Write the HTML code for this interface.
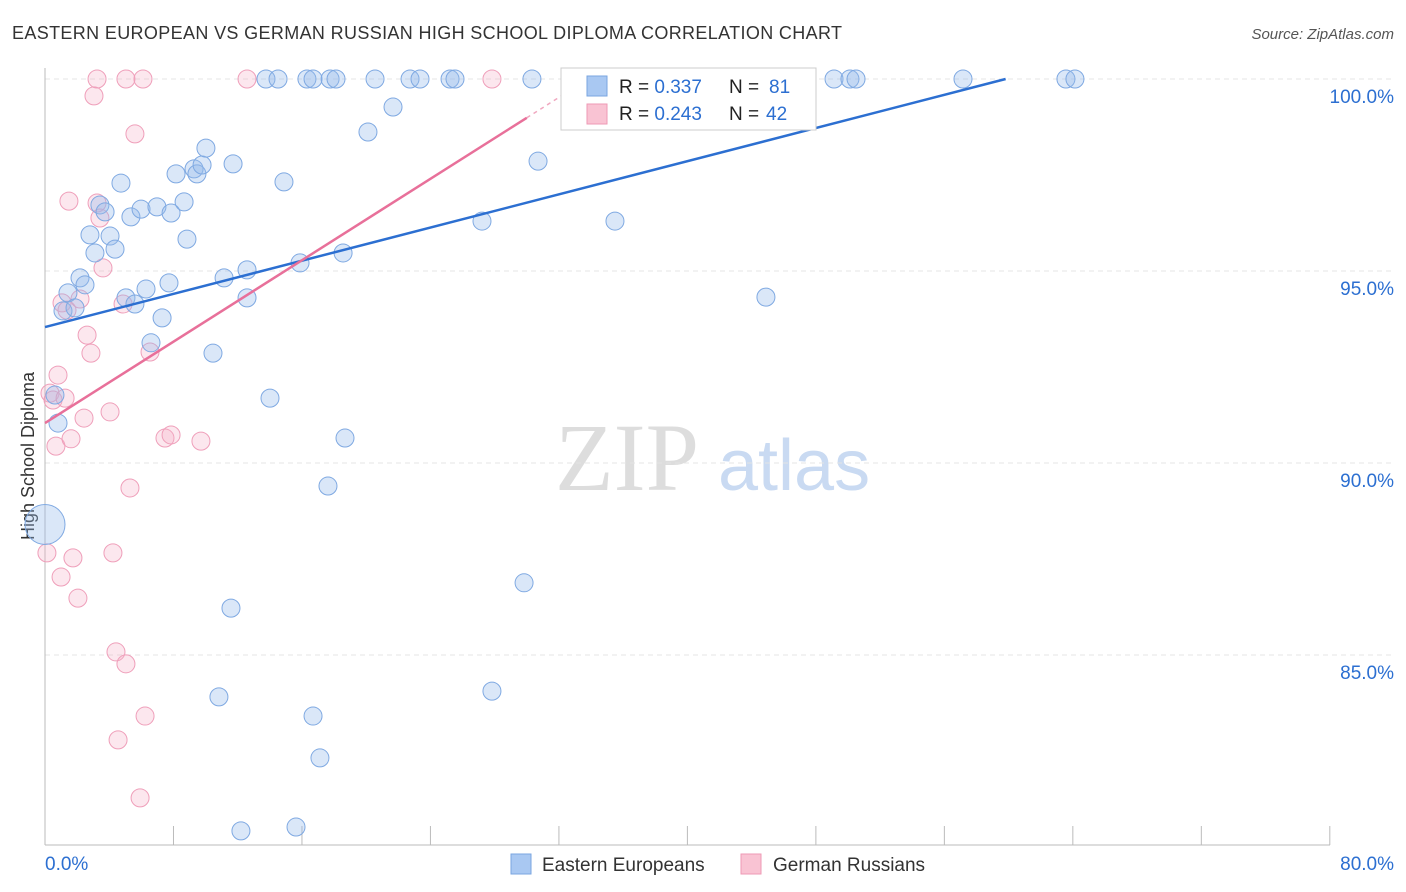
<!DOCTYPE html>
<html><head><meta charset="utf-8"><style>
body{margin:0;background:#fff;font-family:"Liberation Sans",sans-serif;}
svg{display:block}
</style></head><body>
<svg id="chart" width="1406" height="892">
<text x="12" y="39" font-size="18" fill="#333" textLength="830" lengthAdjust="spacing">EASTERN EUROPEAN VS GERMAN RUSSIAN HIGH SCHOOL DIPLOMA CORRELATION CHART</text>
<text x="1394" y="39" font-size="15" fill="#555" text-anchor="end" font-style="italic">Source: ZipAtlas.com</text>
<text transform="translate(34,456) rotate(-90)" font-size="18" fill="#333" text-anchor="middle">High School Diploma</text>
<text x="555" y="490" font-size="96" fill="#ddd" font-family="Liberation Serif,serif">ZIP</text>
<text x="718" y="490" font-size="72" fill="#c9daf2">atlas</text>
<g id="grid"></g><g id="pts"></g><g id="lines"></g>
<g>
<rect x="561" y="68" width="255" height="62" fill="#fff" stroke="#ccc"/>
<rect x="587" y="76" width="20" height="20" fill="#a9c8f2" stroke="#7aa6e0"/>
<rect x="587" y="104" width="20" height="20" fill="#f9c3d3" stroke="#ee9ab5"/>
<text x="619" y="93" font-size="19" fill="#222">R = <tspan fill="#2c6fd1">0.337</tspan></text>
<text x="729" y="93" font-size="19" fill="#222">N = </text>
<text x="769" y="93" font-size="19" fill="#2c6fd1">81</text>
<text x="619" y="120" font-size="19" fill="#222">R = <tspan fill="#2c6fd1">0.243</tspan></text>
<text x="729" y="120" font-size="19" fill="#222">N = </text>
<text x="766" y="120" font-size="19" fill="#2c6fd1">42</text>
</g>
<g>
<rect x="511" y="854" width="20" height="20" fill="#a9c8f2" stroke="#7aa6e0"/>
<text x="542" y="871" font-size="19" fill="#333">Eastern Europeans</text>
<rect x="741" y="854" width="20" height="20" fill="#f9c3d3" stroke="#ee9ab5"/>
<text x="773" y="871" font-size="19" fill="#333">German Russians</text>
</g>
</svg>
<script>
const yTicks=[100,95,90,85];
const xTickLabels=["0.0%","80.0%"];
const blueX=[0,0.62,0.81,1.12,1.43,1.87,2.18,2.49,2.80,3.11,3.42,3.74,4.05,4.36,4.73,5.04,5.35,5.60,5.98,6.29,6.60,6.97,7.29,7.72,7.85,8.16,8.66,8.84,9.28,9.46,9.78,10.02,10.46,11.15,11.58,11.71,10.83,12.20,12.58,12.58,13.76,14.01,14.51,14.88,15.63,15.88,16.31,16.69,16.69,17.12,17.62,17.75,18.12,18.56,18.68,20.11,20.55,21.67,22.73,23.35,25.22,25.53,27.21,27.83,29.83,30.32,30.70,33.94,35.49,35.80,39.29,44.89,47.20,49.13,50.12,50.50,57.16,63.57,64.13];
const blueY=[88.4,91.77,91.04,93.96,94.43,94.04,94.82,94.64,95.94,95.47,96.72,96.54,95.91,95.57,97.29,94.30,96.41,94.14,96.61,94.53,93.13,96.67,93.78,94.69,96.51,97.53,96.80,95.83,97.66,97.53,97.76,98.20,92.86,94.82,86.22,97.79,83.91,80.42,95.03,94.30,100,91.69,100,97.32,80.52,95.21,100,100,83.41,82.32,89.40,100,100,95.47,90.65,98.62,100,99.27,100,100,100,100,96.30,84.06,86.88,100,97.86,100,96.30,100,100,94.32,100,100,100,100,100,100,100];
const pinkX=[0.12,0.31,0.50,0.68,0.81,1.0,1.06,1.25,1.37,1.49,1.62,1.74,2.05,2.18,2.43,2.62,2.86,3.05,3.24,3.24,3.42,3.61,4.05,4.23,4.42,4.55,4.86,5.04,5.04,5.29,5.60,5.92,6.10,6.23,6.54,7.47,7.85,9.71,12.58,27.83];
const pinkY=[87.66,91.82,91.64,90.44,92.29,87.03,94.17,91.69,93.98,96.82,90.63,87.53,86.48,94.27,91.17,93.33,92.86,99.56,100,96.77,96.38,95.08,91.33,87.66,85.08,82.79,94.14,100,84.77,89.35,98.57,81.28,100,83.41,92.89,90.65,90.73,90.57,100,100];
const blueTrend=[93.54,0.108];
const pinkTrend=[91.04,0.265];
const NS="http://www.w3.org/2000/svg";
const xs=v=>45+v*16.06, ys=v=>79+(100-v)*38.4;
function mk(tag,attrs,parent){const e=document.createElementNS(NS,tag);for(const k in attrs)e.setAttribute(k,attrs[k]);document.getElementById(parent).appendChild(e);return e;}
yTicks.forEach(t=>{
 const l=mk('line',{x1:45,x2:1394,y1:ys(t),y2:ys(t),stroke:'#e4e4e4','stroke-dasharray':'5,4'},'grid');
 
 
 const tx=mk('text',{x:1394,y:ys(t)+24,'font-size':19,fill:'#2c6fd1','text-anchor':'end'},'grid');
 tx.textContent=t.toFixed(1)+'%';
 
 
});
const ax=mk('line',{x1:45,x2:45,y1:68,y2:845,stroke:'#bbb'},'grid');


const bx=mk('line',{x1:45,x2:1330,y1:845,y2:845,stroke:'#bbb'},'grid');


for(let i=0;i<=10;i++){
 const t=mk('line',{x1:xs(i*8),x2:xs(i*8),y1:826,y2:845,stroke:'#bbb'},'grid');
 
 
}
[[0,'start'],[80,'end']].forEach((p,i)=>{
 const tx=mk('text',{x:i?1394:45,y:870,'font-size':19,fill:'#2c6fd1','text-anchor':p[1]},'grid');
 tx.textContent=xTickLabels[i];
 
 
});
pinkX.forEach((x,i)=>{
 const c=mk('circle',{cx:xs(x),cy:ys(pinkY[i]),r:9,fill:'rgba(246,175,198,0.3)',stroke:'#ef9fba','stroke-width':1},'pts');
 
 
});
blueX.forEach((x,i)=>{
 const c=mk('circle',{cx:xs(x),cy:ys(blueY[i]),r:i===0?20:9,fill:'rgba(150,185,235,0.35)',stroke:'#7fa9e2','stroke-width':1},'pts');
 
 
});
const bEnd=(100-blueTrend[0])/blueTrend[1];
const bl=mk('line',{x1:xs(0),y1:ys(blueTrend[0]),x2:xs(bEnd),y2:ys(100),stroke:'#2c6fd1','stroke-width':2.5},'lines');


const pMid=30, pEnd=(100-pinkTrend[0])/pinkTrend[1];
const pl=mk('line',{x1:xs(0),y1:ys(pinkTrend[0]),x2:xs(pMid),y2:ys(pinkTrend[0]+pinkTrend[1]*pMid),stroke:'#e8709a','stroke-width':2.5},'lines');


const pd=mk('line',{x1:xs(pMid),y1:ys(pinkTrend[0]+pinkTrend[1]*pMid),x2:xs(pEnd),y2:ys(100),stroke:'#f0a8c0','stroke-width':1.5,'stroke-dasharray':'4,4'},'lines');


</script>
</body></html>
